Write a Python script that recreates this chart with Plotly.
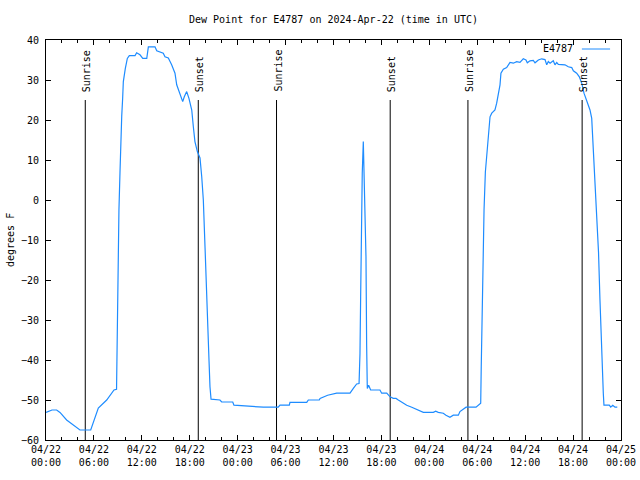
import plotly.graph_objects as go

# ---- data -------------------------------------------------------------
station = "E4787"
times = [
    "2024-04-22 00:00", "2024-04-22 00:45", "2024-04-22 01:20", "2024-04-22 01:45",
    "2024-04-22 02:35", "2024-04-22 03:38", "2024-04-22 04:15", "2024-04-22 05:36",
    "2024-04-22 06:01", "2024-04-22 06:33", "2024-04-22 07:36", "2024-04-22 08:31",
    "2024-04-22 08:50", "2024-04-22 08:53", "2024-04-22 09:08", "2024-04-22 09:16",
    "2024-04-22 09:21", "2024-04-22 09:29", "2024-04-22 09:36", "2024-04-22 09:41",
    "2024-04-22 09:56", "2024-04-22 10:11", "2024-04-22 10:26", "2024-04-22 11:09",
    "2024-04-22 11:21", "2024-04-22 11:46", "2024-04-22 12:07", "2024-04-22 12:37",
    "2024-04-22 12:49", "2024-04-22 13:39", "2024-04-22 13:52", "2024-04-22 14:41",
    "2024-04-22 14:54", "2024-04-22 15:19", "2024-04-22 15:44", "2024-04-22 16:09",
    "2024-04-22 16:22", "2024-04-22 16:47", "2024-04-22 17:07", "2024-04-22 17:19",
    "2024-04-22 17:37", "2024-04-22 17:54", "2024-04-22 18:15", "2024-04-22 18:27",
    "2024-04-22 18:39", "2024-04-22 18:57", "2024-04-22 19:17", "2024-04-22 19:30",
    "2024-04-22 19:42", "2024-04-22 19:55", "2024-04-22 20:07", "2024-04-22 20:12",
    "2024-04-22 20:25", "2024-04-22 20:32", "2024-04-22 20:40", "2024-04-22 21:47",
    "2024-04-22 22:00", "2024-04-22 23:23", "2024-04-22 23:32",
    "2024-04-23 03:13", "2024-04-23 05:05", "2024-04-23 05:18", "2024-04-23 06:28",
    "2024-04-23 06:33", "2024-04-23 08:39", "2024-04-23 08:51", "2024-04-23 10:13",
    "2024-04-23 10:19", "2024-04-23 11:16", "2024-04-23 12:24", "2024-04-23 14:04",
    "2024-04-23 14:29", "2024-04-23 14:54", "2024-04-23 15:12", "2024-04-23 15:19",
    "2024-04-23 15:24", "2024-04-23 15:29", "2024-04-23 15:36", "2024-04-23 15:44",
    "2024-04-23 15:49", "2024-04-23 15:51", "2024-04-23 15:57", "2024-04-23 16:04",
    "2024-04-23 16:09", "2024-04-23 16:14", "2024-04-23 16:24", "2024-04-23 16:39",
    "2024-04-23 17:49", "2024-04-23 18:02", "2024-04-23 18:40", "2024-04-23 19:05",
    "2024-04-23 19:29", "2024-04-23 19:50", "2024-04-23 20:07", "2024-04-23 20:32",
    "2024-04-23 21:10", "2024-04-23 21:48", "2024-04-23 22:37", "2024-04-23 23:15",
    "2024-04-24 00:30", "2024-04-24 00:48", "2024-04-24 01:07", "2024-04-24 01:45",
    "2024-04-24 02:05", "2024-04-24 02:35", "2024-04-24 03:00", "2024-04-24 03:38",
    "2024-04-24 03:50", "2024-04-24 04:15", "2024-04-24 04:36", "2024-04-24 05:51",
    "2024-04-24 06:08", "2024-04-24 06:26", "2024-04-24 06:30", "2024-04-24 06:38",
    "2024-04-24 06:51", "2024-04-24 07:01", "2024-04-24 07:11", "2024-04-24 07:23",
    "2024-04-24 07:36", "2024-04-24 07:49", "2024-04-24 08:13", "2024-04-24 08:26",
    "2024-04-24 08:38", "2024-04-24 08:51", "2024-04-24 08:58", "2024-04-24 09:16",
    "2024-04-24 09:41", "2024-04-24 09:53", "2024-04-24 10:06", "2024-04-24 10:31",
    "2024-04-24 10:56", "2024-04-24 11:21", "2024-04-24 11:46", "2024-04-24 12:06",
    "2024-04-24 12:16", "2024-04-24 12:36", "2024-04-24 13:01", "2024-04-24 13:14",
    "2024-04-24 13:39", "2024-04-24 14:04", "2024-04-24 14:29", "2024-04-24 14:42",
    "2024-04-24 14:54", "2024-04-24 15:07", "2024-04-24 15:31", "2024-04-24 15:44",
    "2024-04-24 15:57", "2024-04-24 16:09", "2024-04-24 16:59", "2024-04-24 17:24",
    "2024-04-24 17:50", "2024-04-24 18:02", "2024-04-24 18:27", "2024-04-24 18:47",
    "2024-04-24 19:05", "2024-04-24 19:22", "2024-04-24 19:42", "2024-04-24 20:07",
    "2024-04-24 20:20", "2024-04-24 20:32", "2024-04-24 20:45", "2024-04-24 20:57",
    "2024-04-24 21:11", "2024-04-24 21:22", "2024-04-24 21:30", "2024-04-24 21:35",
    "2024-04-24 21:47", "2024-04-24 21:52", "2024-04-24 22:32", "2024-04-24 22:43",
    "2024-04-24 22:58", "2024-04-24 23:15", "2024-04-24 23:32",
]
dew_point = [
    -53.1, -52.5, -52.5, -53.1,
    -55.0, -56.5, -57.5, -57.5,
    -55.0, -52.0, -50.0, -47.5,
    -47.3, -38.8, -2.5, 7.0,
    16.0, 21.0, 25.5, 29.6,
    32.9, 35.4, 36.1, 36.1,
    36.8, 36.3, 35.4, 35.4,
    38.3, 38.3, 37.3, 36.7,
    35.8, 35.5, 33.8, 31.7,
    28.8, 26.7, 24.6, 25.8,
    27.1, 25.4, 22.5, 18.3,
    14.6, 12.1, 10.5, 5.8,
    0.0, -12.0, -25.0, -32.0,
    -40.4, -46.7, -49.8, -50.0,
    -50.5, -50.5, -51.3,
    -51.8, -51.8, -51.3, -51.3,
    -50.6, -50.6, -50.0, -50.0,
    -49.6, -48.8, -48.3, -48.3,
    -47.1, -46.0, -45.9, -38.3,
    -24.2, -9.2, 6.7, 14.6,
    6.7, 10.0, 0.8, -14.2,
    -36.3, -47.1, -46.3, -47.5,
    -47.5, -48.3, -48.3, -49.2,
    -49.6, -49.6, -50.0, -50.6,
    -51.3, -51.8, -52.5, -53.1,
    -53.1, -52.8, -53.1, -53.3,
    -53.8, -54.3, -53.8, -53.8,
    -52.9, -52.3, -51.8, -51.8,
    -51.3, -50.8, -41.7, -25.0,
    -2.5, 7.0, 11.3, 16.3,
    20.8, 21.7, 22.5, 24.2,
    26.7, 28.8, 31.7, 32.7,
    33.1, 33.9, 34.4, 34.2,
    34.6, 34.4, 35.3, 35.0,
    34.3, 34.8, 34.9, 34.3,
    35.0, 35.3, 35.1, 33.8,
    34.6, 34.2, 34.8, 33.8,
    34.4, 33.9, 33.8, 33.3,
    33.1, 32.3, 31.7, 30.8,
    29.2, 26.7, 24.6, 22.5,
    20.4, 12.9, 6.7, -1.7,
    -13.0, -25.0, -32.5, -42.0,
    -48.3, -51.3, -51.3, -51.8,
    -51.3, -51.8, -51.8,
]
sun_times = ["2024-04-22 04:55", "2024-04-22 19:04", "2024-04-23 04:52",
             "2024-04-23 19:06", "2024-04-24 04:50", "2024-04-24 19:08"]
sun_labels = ["Sunrise", "Sunset", "Sunrise", "Sunset", "Sunrise", "Sunset"]
sun_line_bottom = -60
sun_line_top = 25
x_start, x_end = "2024-04-22 00:00", "2024-04-25 00:00"
y_min, y_max = -60, 40
y_ticks = [-60, -50, -40, -30, -20, -10, 0, 10, 20, 30, 40]

# ---- figure -----------------------------------------------------------
FONT = "DejaVu Sans Mono"
LINE_COLOR = "#1e8cff"

fig = go.Figure()

# sunrise / sunset markers
for t, lab in zip(sun_times, sun_labels):
    fig.add_trace(go.Scatter(x=[t, t], y=[sun_line_bottom, sun_line_top],
                             mode="lines", line=dict(color="black", width=1),
                             showlegend=False, hoverinfo="skip"))
    fig.add_annotation(x=t, y=sun_line_top + 1.5, text=lab, textangle=-90,
                       xanchor="center", yanchor="bottom", showarrow=False,
                       xshift=1,
                       font=dict(family=FONT, size=10, color="black"))

fig.add_trace(go.Scatter(x=times, y=dew_point, mode="lines", name=station,
                         line=dict(color=LINE_COLOR, width=1.2), showlegend=False))

# gnuplot-style legend (text, then sample line)
fig.add_annotation(xref="paper", yref="paper", x=0.92, y=0.9775, text=station,
                   xanchor="right", yanchor="middle", showarrow=False,
                   font=dict(family=FONT, size=10, color="black"))
fig.add_shape(type="line", xref="paper", yref="paper", x0=0.932, x1=0.981,
              y0=0.9775, y1=0.9775, line=dict(color=LINE_COLOR, width=1))

# y axis title
fig.add_annotation(xref="paper", yref="paper", x=0, y=0.5, xshift=-36,
                   text="degrees F", textangle=-90, showarrow=False,
                   xanchor="center", yanchor="middle",
                   font=dict(family=FONT, size=10, color="black"))

fig.update_layout(
    width=640, height=480,
    margin=dict(l=46, r=19, t=40, b=40, autoexpand=False),
    paper_bgcolor="white", plot_bgcolor="white",
    font=dict(family=FONT, size=10, color="black"),
    title=dict(text="Dew Point for E4787 on 2024-Apr-22 (time in UTC)",
               x=0.5, xanchor="center", xref="paper",
               y=1 - 19 / 480, yanchor="middle", yref="container",
               font=dict(family=FONT, size=10, color="black")),
)
fig.update_xaxes(
    type="date", range=[x_start, x_end], automargin=False,
    dtick=6 * 3600 * 1000, tick0=x_start,
    tickformat="%m/%d<br>%H:%M",
    ticks="inside", ticklen=5, tickcolor="black", tickwidth=1,
    minor=dict(dtick=2 * 3600 * 1000, ticks="inside", ticklen=3,
               tickcolor="black", tickwidth=1),
    showline=True, linecolor="black", linewidth=1, mirror="allticks",
    showgrid=False, zeroline=False,
    tickfont=dict(family=FONT, size=10, color="black"),
)
fig.update_yaxes(
    range=[y_min, y_max], tickvals=y_ticks, automargin=False,
    ticks="inside", ticklen=5, tickcolor="black", tickwidth=1,
    ticklabelstandoff=4,
    showline=True, linecolor="black", linewidth=1, mirror="allticks",
    showgrid=False, zeroline=False,
    tickfont=dict(family=FONT, size=10, color="black"),
)

fig.write_html("out.html", config={"displayModeBar": False},
               post_script="document.body.style.margin='0';document.body.style.padding='0';")
